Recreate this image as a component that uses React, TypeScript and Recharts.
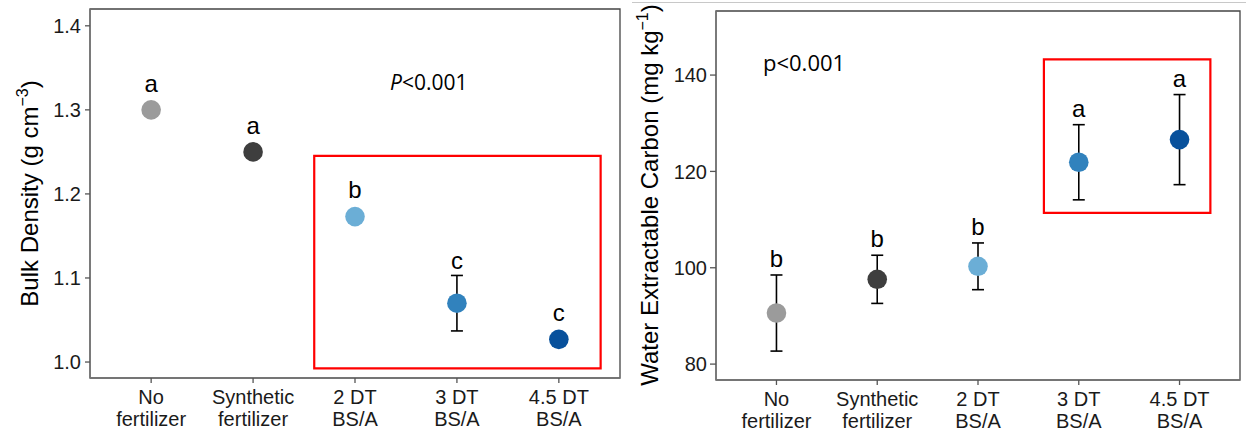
import React from 'react';
import { ScatterChart, Scatter, XAxis, YAxis, ErrorBar, ReferenceArea } from 'recharts';

// ---- data ----
const categories: string[][] = [
  ['No', 'fertilizer'],
  ['Synthetic', 'fertilizer'],
  ['2 DT', 'BS/A'],
  ['3 DT', 'BS/A'],
  ['4.5 DT', 'BS/A'],
];
const bulkDensity = [1.3, 1.25, 1.173, 1.07, 1.027];
const bulkDensityErr = [0.004, 0.005, 0.005, 0.033, 0.006];
const bulkLetters = ['a', 'a', 'b', 'c', 'c'];
const bulkTicks = [1.0, 1.1, 1.2, 1.3, 1.4];

const wec = [90.6, 97.6, 100.3, 121.9, 126.6];
const wecErr = [7.9, 5.0, 4.85, 7.8, 9.35];
const wecLetters = ['b', 'b', 'b', 'a', 'a'];
const wecTicks = [80, 100, 120, 140];

const xTicks = [1, 2, 3, 4, 5];

// highlight boxes (data units)
const bulkBox = { x1: 2.6, x2: 5.41, y1: 0.9925, y2: 1.2452 };
const wecBox = { x1: 3.654, x2: 5.306, y1: 111.4, y2: 143.27 };

const COLORS = ['#9b9b9b', '#3e3e3e', '#6baed6', '#3182bd', '#08519c'];
const FONT = '"Liberation Sans", Arial, sans-serif';

function buildRows(vals: number[], errs: number[], letters: string[], padPoint: number, padErr: number) {
  return vals.map((v, i) => ({
    i,
    x: i + 1,
    y: v,
    err: errs[i],
    letter: letters[i],
    ly: Math.max(v + padPoint, v + errs[i] + padErr),
  }));
}

const bulkRows = buildRows(bulkDensity, bulkDensityErr, bulkLetters, 0.03, 0.016);
const wecRows = buildRows(wec, wecErr, wecLetters, 5.2, 3.1);

const XTick = (props: any) => {
  const { x, y, payload } = props;
  const lines = categories[Math.round(payload.value) - 1] || ['', ''];
  return (
    <text x={x} y={y} textAnchor="middle" fontFamily={FONT} fontSize={20} fill="#1a1a1a">
      <tspan x={x} dy={19}>{lines[0]}</tspan>
      <tspan x={x} dy={22}>{lines[1]}</tspan>
    </text>
  );
};

const PointShape = (props: any) => {
  const { cx, cy, payload } = props;
  return <circle cx={cx} cy={cy} r={9.8} fill={COLORS[payload.i]} />;
};

const LetterShape = (props: any) => {
  const { cx, cy, payload } = props;
  return (
    <text x={cx} y={cy + 7} textAnchor="middle" fontFamily={FONT} fontSize={24} fill="#000">
      {payload.letter}
    </text>
  );
};

function Panel(props: {
  width: number;
  margin: any;
  yWidth: number;
  xHeight: number;
  domain: [number, number];
  ticks: number[];
  rows: any[];
  box: { x1: number; x2: number; y1: number; y2: number };
  tickSize: number;
  tickMargin: number;
  fmt: (v: number) => string;
}) {
  const { width, margin, yWidth, xHeight, domain, ticks, rows, box, tickSize, tickMargin, fmt } = props;
  return (
    <ScatterChart width={width} height={438} margin={margin}>
      <XAxis
        type="number"
        dataKey="x"
        domain={[0.4, 5.6]}
        ticks={xTicks}
        allowDataOverflow
        height={xHeight}
        tick={<XTick />}
        tickSize={5}
        tickLine={{ stroke: '#555', strokeWidth: 1.3 }}
        axisLine={{ stroke: '#777', strokeWidth: 1.5 }}
        interval={0}
      />
      <YAxis
        type="number"
        dataKey="y"
        domain={domain}
        ticks={ticks}
        allowDataOverflow
        width={yWidth}
        tickSize={tickSize}
        tickMargin={tickMargin}
        tickFormatter={fmt}
        tick={{ fontFamily: FONT, fontSize: 20, fill: '#1a1a1a' }}
        tickLine={{ stroke: '#555', strokeWidth: 1.3 }}
        axisLine={{ stroke: '#777', strokeWidth: 1.5 }}
        interval={0}
      />
      <ReferenceArea
        x1={0.4}
        x2={5.6}
        y1={domain[0]}
        y2={domain[1]}
        fill="none"
        stroke="#444"
        strokeWidth={1.3}
        ifOverflow="visible"
      />
      <ReferenceArea
        x1={box.x1}
        x2={box.x2}
        y1={box.y1}
        y2={box.y2}
        fill="none"
        fillOpacity={0}
        stroke="#ff0000"
        strokeWidth={2.2}
        ifOverflow="visible"
      />
      <Scatter data={rows} dataKey="y" isAnimationActive={false} shape={<PointShape />}>
        <ErrorBar dataKey="err" direction="y" width={6} stroke="#000" strokeWidth={1.6} />
      </Scatter>
      <Scatter
        data={rows.map((r) => ({ ...r, y: r.ly }))}
        dataKey="y"
        isAnimationActive={false}
        shape={<LetterShape />}
      />
    </ScatterChart>
  );
}

export default function App() {
  return (
    <div style={{ position: 'absolute', left: 0, top: 0, width: 1246, height: 438, background: '#fff', overflow: 'hidden' }}>
      <div style={{ position: 'absolute', left: 0, top: 0 }}>
        <Panel
          width={640}
          margin={{ top: 9, right: 20, bottom: 0, left: 0 }}
          yWidth={90}
          xHeight={60}
          domain={[0.981, 1.42]}
          ticks={bulkTicks}
          rows={bulkRows}
          box={bulkBox}
          tickSize={5}
          tickMargin={4}
          fmt={(v) => v.toFixed(1)}
        />
      </div>
      <div style={{ position: 'absolute', left: 630, top: 0 }}>
        <Panel
          width={616}
          margin={{ top: 11, right: 6, bottom: 0, left: 0 }}
          yWidth={86}
          xHeight={58}
          domain={[76.7, 153.3]}
          ticks={wecTicks}
          rows={wecRows}
          box={wecBox}
          tickSize={6}
          tickMargin={3}
          fmt={(v) => String(v)}
        />
      </div>
      <svg
        width={1246}
        height={438}
        style={{ position: 'absolute', left: 0, top: 0, pointerEvents: 'none' }}
      >
        <line x1={632} y1={2.5} x2={1246} y2={2.5} stroke="#c8c8c8" strokeWidth={1.2} />
        <text
          transform="translate(38,193.5) rotate(-90)"
          textAnchor="middle"
          fontFamily={FONT}
          fontSize={24}
          fill="#000"
        >
          <tspan>Bulk Density (g cm</tspan>
          <tspan dy={-10} fontSize={16}>−3</tspan>
          <tspan dy={10}>)</tspan>
        </text>
        <text
          transform="translate(658,195) rotate(-90)"
          textAnchor="middle"
          fontFamily={FONT}
          fontSize={24}
          fill="#000"
        >
          <tspan>Water Extractable Carbon (mg kg</tspan>
          <tspan dy={-10} fontSize={16}>−1</tspan>
          <tspan dy={10}>)</tspan>
        </text>
        <text x={390} y={90} fontFamily='"Open Sans", sans-serif' fontSize={21} fill="#000">
          <tspan fontStyle="italic">P</tspan>
          <tspan>&lt;0.001</tspan>
        </text>
        <text x={763} y={71} fontFamily='"Open Sans", sans-serif' fontSize={22} fill="#000">
          p&lt;0.001
        </text>
      </svg>
    </div>
  );
}
